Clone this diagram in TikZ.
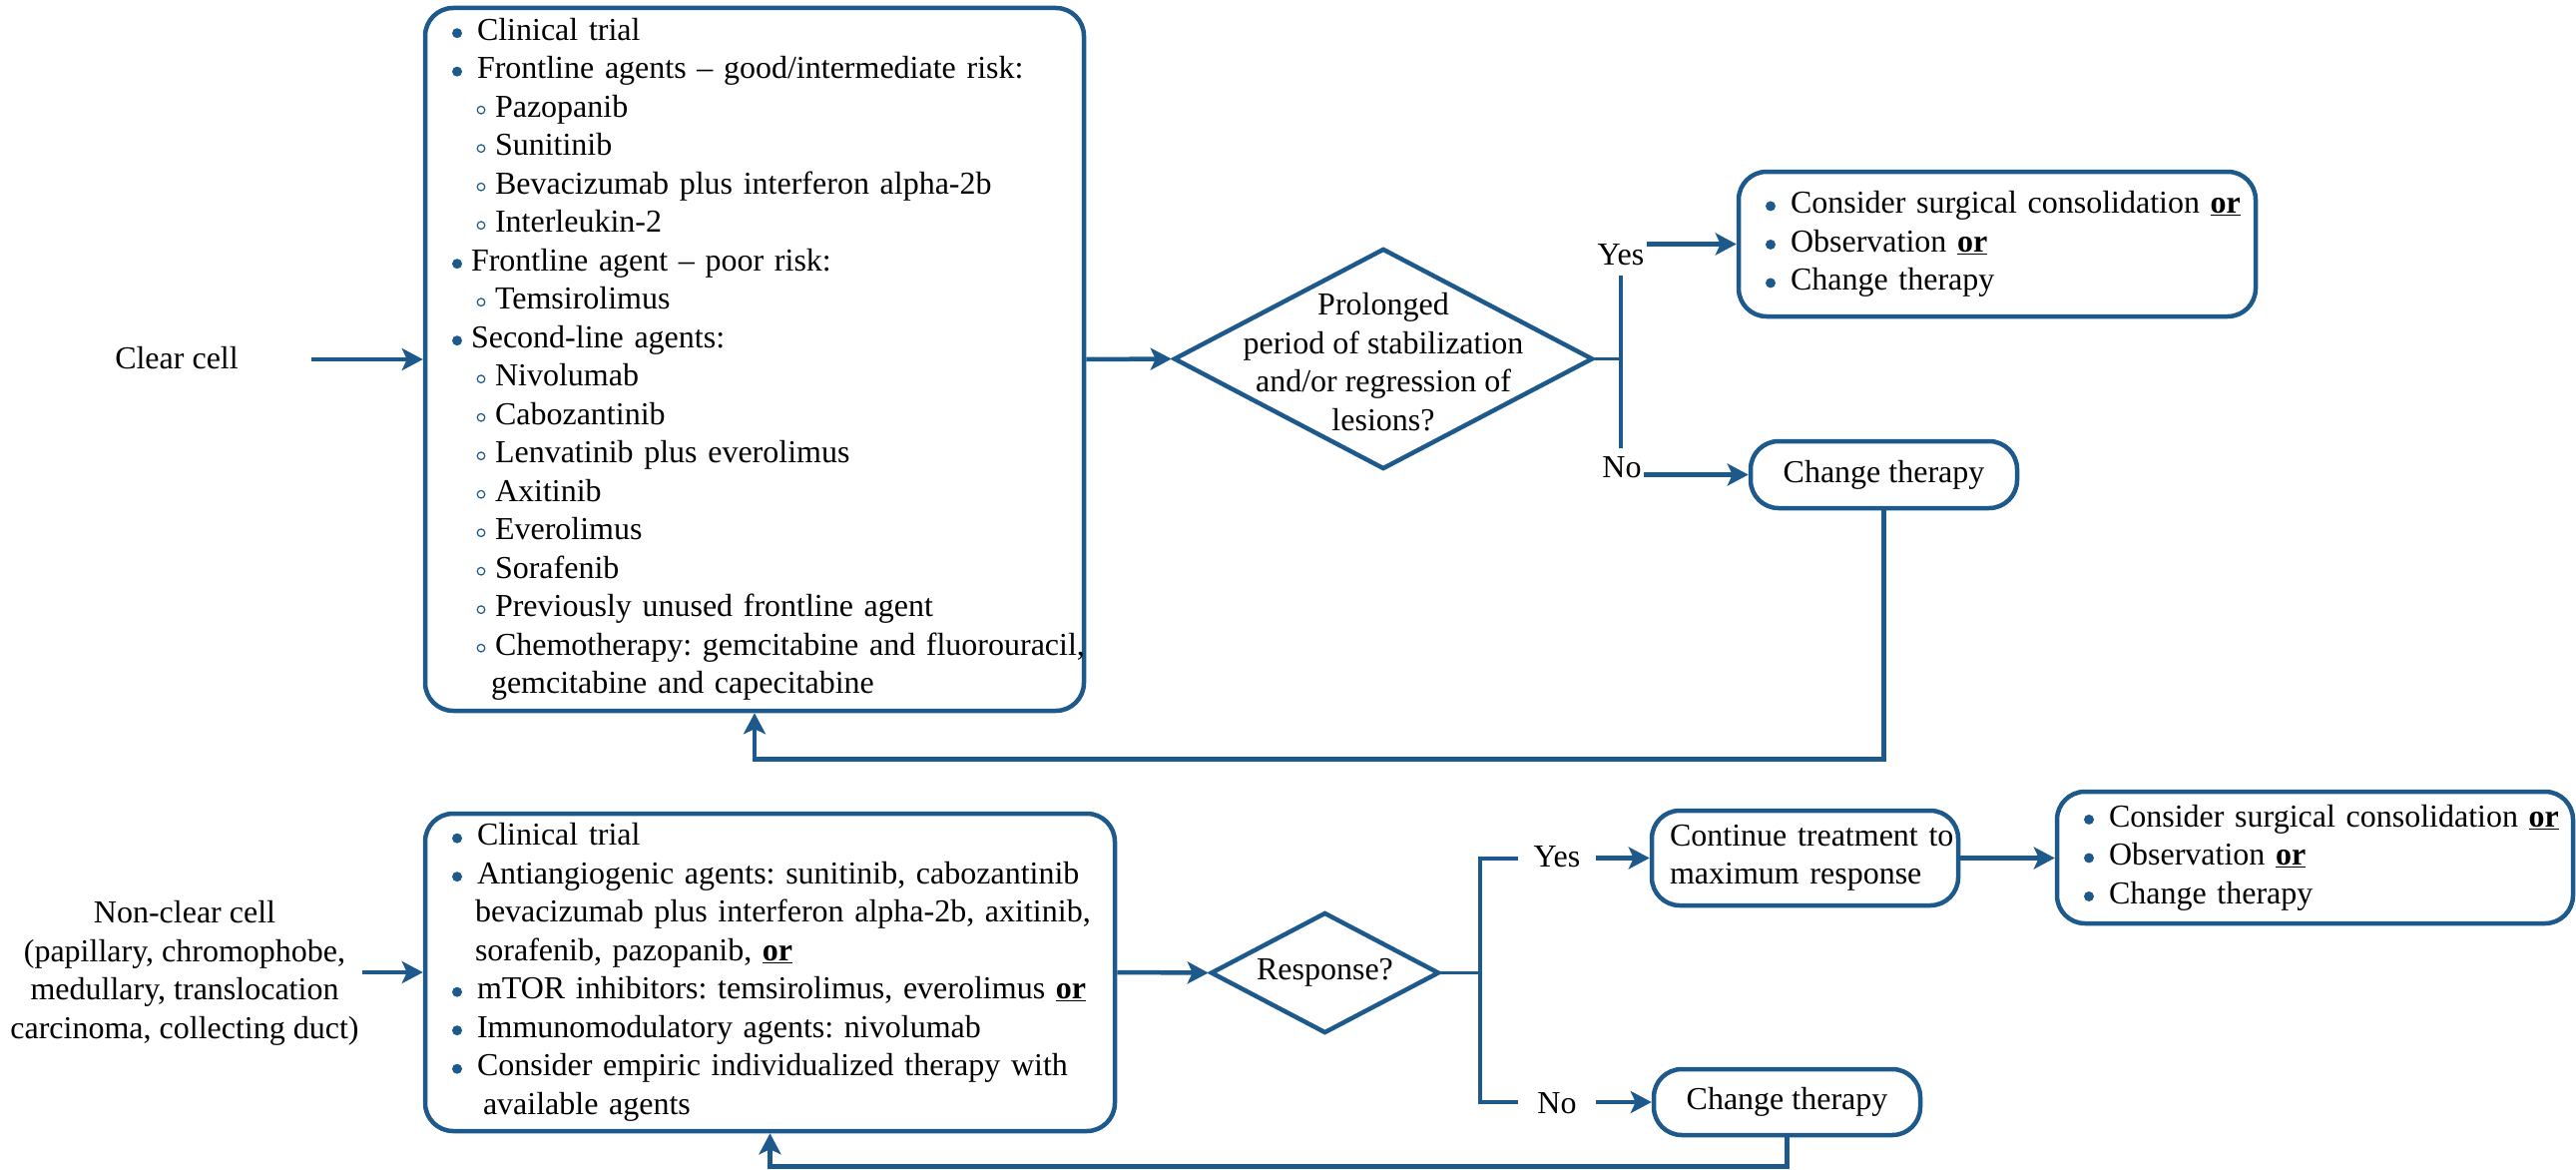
\documentclass[tikz,border=0pt]{standalone}
\usepackage{fontspec}
\setmainfont{Liberation Serif}
\usetikzlibrary{arrows.meta,shapes.geometric}
\definecolor{mblue}{RGB}{29,89,139}
\frenchspacing

% list markers
\newcommand\BDot{\tikz[baseline=-7.2pt]\fill[mblue] (0,0) circle (5pt);}
\newcommand\RDot{\tikz[baseline=-7.2pt]\draw[mblue,line width=1.2pt] (0,0) circle (3.8pt);}
% list lines: offsets measured from the left edge of the text block
\newcommand\itemA[1]{\mbox{\hspace{15pt}\makebox[25pt][l]{\BDot}#1}}
\newcommand\itemP[1]{\mbox{\hspace{15pt}\makebox[19pt][l]{\BDot}#1}}
\newcommand\itemS[1]{\mbox{\hspace{39.6pt}\makebox[18.4pt][l]{\RDot}#1}}
\newcommand\itemC[2]{\mbox{\hspace{#1}#2}}
\newcommand\orb{\underline{\textbf{or}}}

\tikzset{
  box/.style={draw=mblue, line width=4.5pt, rounded corners=28pt,
    inner xsep=12pt, inner ysep=0pt, align=left},
  dia/.style={draw=mblue, line width=4.5pt, diamond, inner sep=0pt},
  conn/.style={draw=mblue, line width=3.5pt},
  arr/.style={draw=mblue, line width=4.5pt,
    -{Stealth[length=21pt,width=22pt,inset=5pt]}},
  lab/.style={inner sep=2pt},
}

\begin{document}
\begin{tikzpicture}[x=1pt, y=-1pt,
  every node/.style={font=\fontsize{32}{38.5}\selectfont}]
\useasboundingbox (0,0) rectangle (2581,1172);

% ---------- clear cell branch ----------
\node[lab, inner sep=0pt, minimum width=270pt] (cc) at (177,358.5) {Clear cell};

\node[box, text width=636pt, minimum width=660pt, minimum height=704pt] (b1) at (756,360) {%
\itemA{Clinical trial}\\
\itemA{Frontline agents – good/intermediate risk:}\\
\itemS{Pazopanib}\\
\itemS{Sunitinib}\\
\itemS{Bevacizumab plus interferon alpha-2b}\\
\itemS{Interleukin-2}\\
\itemP{Frontline agent – poor risk:}\\
\itemS{Temsirolimus}\\
\itemP{Second-line agents:}\\
\itemS{Nivolumab}\\
\itemS{Cabozantinib}\\
\itemS{Lenvatinib plus everolimus}\\
\itemS{Axitinib}\\
\itemS{Everolimus}\\
\itemS{Sorafenib}\\
\itemS{Previously unused frontline agent}\\
\itemS{Chemotherapy: gemcitabine and fluorouracil,}\\
\itemC{54pt}{gemcitabine and capecitabine}};

\node[dia, minimum width=420pt, minimum height=221pt] (d1) at (1386,359.5) {};
\node[align=center, inner sep=0pt] (d1t) at ([yshift=-3pt]d1.center)
  {Prolonged\\period of stabilization\\and/or regression of\\lesions?};

\node[box, text width=494pt, minimum width=518pt, minimum height=145pt] (b2) at (2001,244.5) {%
\itemA{Consider surgical consolidation \orb}\\
\itemA{Observation \orb}\\
\itemA{Change therapy}};

\node[box, align=center, inner xsep=0pt, minimum width=267pt, minimum height=67pt] (b3) at (1887.5,475.5) {Change therapy};

\node[lab] (y1) at (1624,255) {Yes};
\node[lab] (n1) at (1625,468.5) {No};
\coordinate (j1) at (1624,359.5);
\coordinate (j1t) at (1624,276);
\coordinate (j1b) at (1624,449);

\draw[arr] (cc.east |- b1.west) -- (b1.west);
\draw[arr] (b1.east) -- (d1.west);
\draw[conn] (d1.east) -- (j1);
\draw[conn] (j1t) -- (j1b);
\draw[arr] (y1.east |- b2.west) -- (b2.west);
\draw[arr] (n1.east |- b3.west) -- (b3.west);
\draw[arr] (b3.south) -- ++(0,249) -| (b1.south);

% ---------- non-clear cell branch ----------
\node[align=center, inner sep=3pt] (nc) at (185,975)
  {Non-clear cell\\(papillary, chromophobe,\\medullary, translocation\\carcinoma, collecting duct)};

\node[box, text width=667pt, minimum width=691pt, minimum height=318pt] (b4) at (771.5,974) {%
\itemA{Clinical trial}\\
\itemA{Antiangiogenic agents: sunitinib, cabozantinib}\\
\itemC{38pt}{bevacizumab plus interferon alpha-2b, axitinib,}\\
\itemC{38pt}{sorafenib, pazopanib, \orb}\\
\itemA{mTOR inhibitors: temsirolimus, everolimus \orb}\\
\itemA{Immunomodulatory agents: nivolumab}\\
\itemA{Consider empiric individualized therapy with}\\
\itemC{46pt}{available agents}};

\node[dia, minimum width=229pt, minimum height=121pt] (d2) at (1327.5,974.5) {};
\node[inner sep=0pt] (d2t) at (d2.center) {Response?};

\node[box, inner xsep=18pt, text width=271pt, minimum width=307pt, minimum height=95pt] (b5) at (1808.5,859.5) {%
\mbox{Continue treatment to}\\
\mbox{maximum response}};

\node[box, text width=493pt, minimum width=517pt, minimum height=132pt] (b6) at (2319.5,859) {%
\itemA{Consider surgical consolidation \orb}\\
\itemA{Observation \orb}\\
\itemA{Change therapy}};

\node[box, align=center, inner xsep=0pt, minimum width=267pt, minimum height=66pt] (b7) at (1790.5,1104) {Change therapy};

\node[lab, inner sep=0pt, minimum width=78pt] (y2) at (1560,858) {Yes};
\node[lab, inner sep=0pt, minimum width=78pt] (n2) at (1560,1105) {No};
\coordinate (j2) at (1483,974.5);
\coordinate (j2t) at (1483,860);
\coordinate (j2b) at (1483,1104);

\draw[arr] (nc.east |- b4.west) -- (b4.west);
\draw[arr] (b4.east) -- (d2.west);
\draw[conn] (d2.east) -- (j2);
\draw[conn] (y2.west |- j2t) -- (j2t) -- (j2b) -- (n2.west |- j2b);
\draw[arr] (y2.east |- b5.west) -- (b5.west);
\draw[arr] (n2.east |- b7.west) -- (b7.west);
\draw[arr] (b5.east) -- (b5.east -| b6.west);
\draw[arr] (b7.south) -- ++(0,29) -| (b4.south);
\end{tikzpicture}
\end{document}
